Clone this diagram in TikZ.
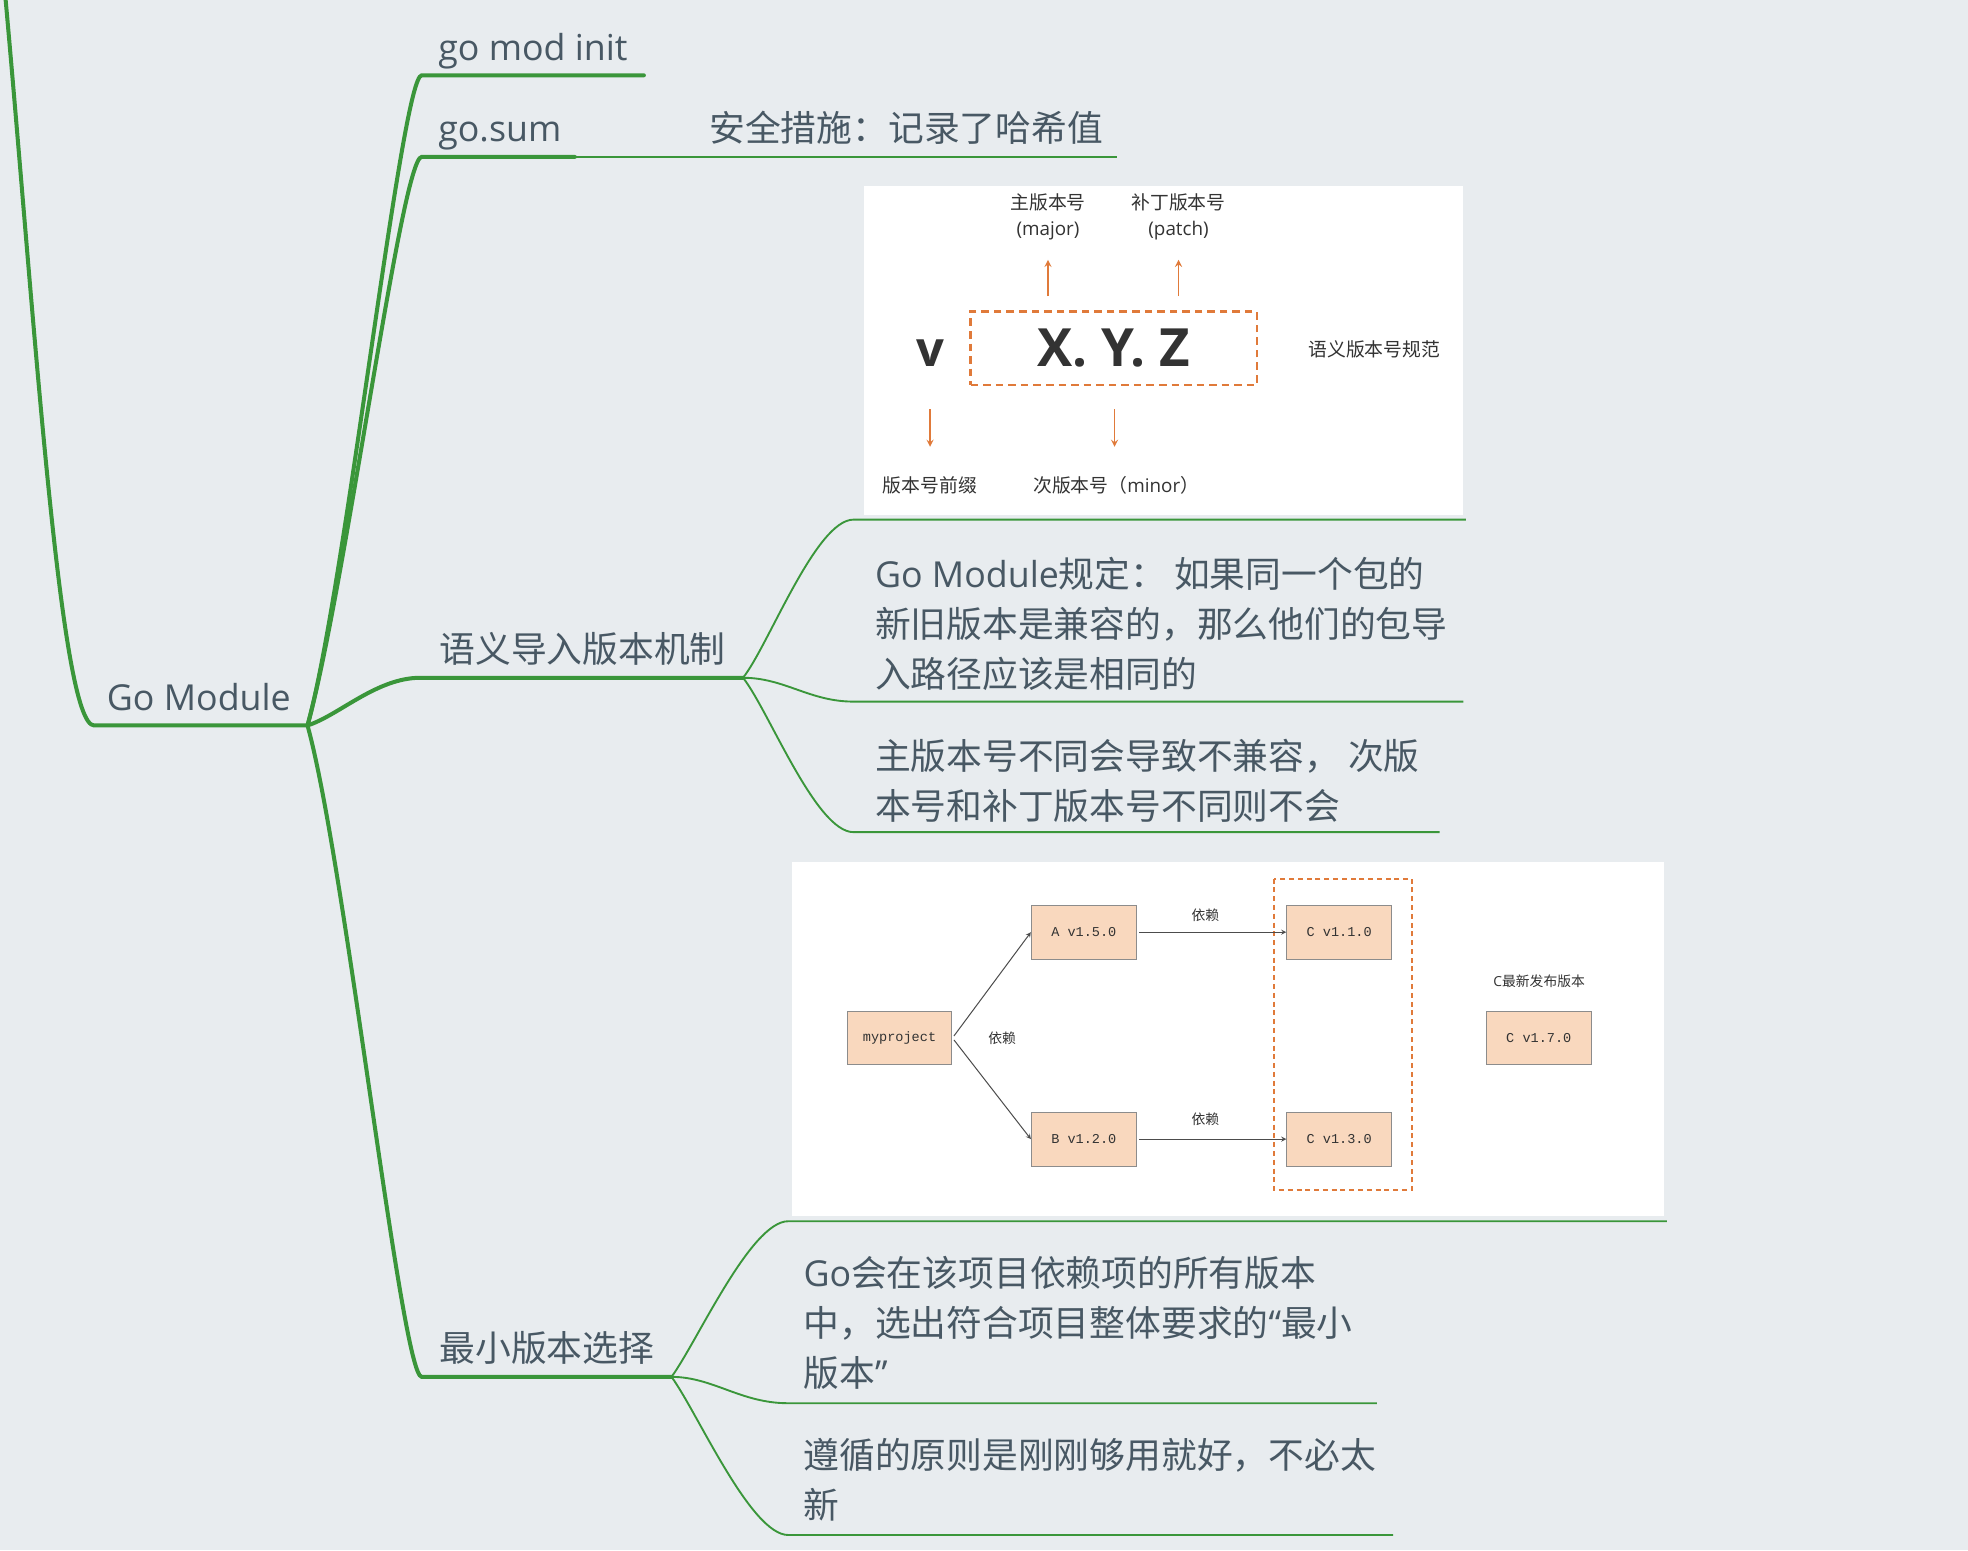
\documentclass[tikz,border=0pt]{standalone}
\usepackage{fontspec}
\setmainfont{Open Sans}
\newfontfamily\cjk{Noto Sans CJK SC}
\newfontfamily\mono{Liberation Mono}
\newcommand\zh[1]{{\cjk #1}}

\definecolor{mmbg}{RGB}{232,236,239}
\definecolor{mmgreen}{RGB}{58,150,58}
\definecolor{mmtext}{RGB}{72,88,100}
\definecolor{verorange}{RGB}{224,122,58}
\definecolor{peach}{RGB}{249,216,190}
\definecolor{ink}{RGB}{51,51,51}

\begin{document}
\begin{tikzpicture}[x=1pt, y=-1pt,
	trunk/.style={draw=mmgreen, line width=3.2pt, line cap=round},
	twig/.style={draw=mmgreen, line width=1.5pt},
	topic/.style={anchor=base west, inner sep=0pt, text=mmtext, align=left,
		font=\fontsize{28.5}{40}\selectfont},
	piclabel/.style={inner sep=0pt, text=ink, align=center, font=\fontsize{15}{21}\selectfont},
	pkg/.style={draw=black!45, fill=peach, line width=0.8pt, minimum width=83.5pt,
		minimum height=43pt, inner sep=0pt, text=ink, font=\mono\fontsize{10.8}{12}\selectfont},
	deplabel/.style={inner sep=0pt, text=ink, font=\fontsize{11}{13}\selectfont},
	tipup/.style={draw=verorange, line width=1.5pt, -stealth},
	deparrow/.style={draw=black!70, line width=0.8pt, -stealth, shorten <=2pt}]

	% 背景
	\fill[mmbg] (0, 0) rectangle (1568, 1235);
	\useasboundingbox (0, 0) rectangle (1568, 1235);

	% 分支的起点
	\coordinate (J) at (245, 578);
	\coordinate (S) at (592, 540);
	\coordinate (M) at (535, 1097);

	% 主干与一级分支
	\draw[trunk] (4.5, 0) .. controls (28, 260) and (48, 578) .. (75, 578) -- (J);
	\draw[trunk] (J) .. controls (275, 470) and (320, 60) .. (336, 60) -- (513, 60);
	\draw[trunk] (J) .. controls (275, 470) and (320, 125) .. (336, 125) -- (458, 125);
	\draw[trunk] (J) .. controls (270, 570) and (300, 540) .. (335, 540) -- (S);
	\draw[trunk] (J) .. controls (275, 686) and (320, 1097) .. (336, 1097) -- (M);

	% 二级分支
	\draw[twig] (458, 125) -- (890, 125);
	\draw[twig] (S) .. controls (612, 515) and (650, 414) .. (680, 414) -- (1168, 414);
	\draw[twig] (S) .. controls (625, 540) and (645, 559) .. (680, 559) -- (1166, 559);
	\draw[twig] (S) .. controls (612, 565) and (650, 663) .. (680, 663) -- (1147, 663);
	\draw[twig] (M) .. controls (555, 1070) and (598, 973) .. (628, 973) -- (1328, 973);
	\draw[twig] (M) .. controls (568, 1097) and (590, 1118) .. (628, 1118) -- (1097, 1118);
	\draw[twig] (M) .. controls (555, 1124) and (598, 1223) .. (628, 1223) -- (1110, 1223);

	% 主题文字 (多行时基线取最后一行)
	\node[topic] (gm) at (85, 566) {Go Module};
	\node[topic] (modinit) at (349, 48) {go mod init};
	\node[topic] (gosum) at (349, 113) {go.sum};
	\node[topic] (hash) at (565, 113) {\zh{安全措施：记录了哈希值}};
	\node[topic] (semver) at (350, 528) {\zh{语义导入版本机制}};
	\node[topic] (minver) at (350, 1085) {\zh{最小版本选择}};
	\node[topic] (rule) at (697, 548)
		{Go Module\zh{规定： 如果同一个包的}\\\zh{新旧版本是兼容的，那么他们的包导}\\\zh{入路径应该是相同的}};
	\node[topic] (major) at (697, 653)
		{\zh{主版本号不同会导致不兼容， 次版}\\\zh{本号和补丁版本号不同则不会}};
	\node[topic] (goal) at (640, 1105)
		{Go\zh{会在该项目依赖项的所有版本}\\\zh{中，选出符合项目整体要求的}“\zh{最小}\\\zh{版本}”};
	\node[topic] (principle) at (640, 1210)
		{\zh{遵循的原则是刚刚够用就好，不必太}\\\zh{新}};

	% 语义版本号的图
	\fill[white] (688, 148) rectangle (1166, 410);
	\node[draw=verorange, line width=2pt, dash pattern=on 6pt off 4pt,
		minimum width=228pt, minimum height=58.5pt, inner sep=0pt, text=ink,
		font=\bfseries\fontsize{42}{42}\selectfont] (xyz) at (887.4, 277.5) {X. Y. Z};
	\node[inner sep=0pt, text=ink, font=\bfseries\fontsize{39}{39}\selectfont] (vpre) at (741, 281) {v};
	\node[piclabel] (majorlbl) at (835, 173) {\zh{主版本号}\\(major)};
	\node[piclabel] (patchlbl) at (939, 173) {\zh{补丁版本号}\\(patch)};
	\node[piclabel] (prefixlbl) at (741, 387) {\zh{版本号前缀}};
	\node[piclabel, anchor=west] (minorlbl) at (823, 387) {\zh{次版本号（}minor\zh{）}};
	\node[piclabel] (speclbl) at (1095, 278) {\zh{语义版本号规范}};
	\draw[tipup] (835, 236) -- (835, 207);
	\draw[tipup] (939, 236) -- (939, 207);
	\draw[tipup] (741, 326) -- (741, 356);
	\draw[tipup] (888, 326) -- (888, 356);

	% 最小版本选择的图
	\fill[white] (631, 687) rectangle (1326, 969);
	\draw[verorange, line width=1.5pt, dash pattern=on 4pt off 3pt] (1015, 700) rectangle (1125, 948);
	\node[pkg] (myproject) at (716.7, 827) {myproject};
	\node[pkg] (Av) at (863.5, 742.7) {A v1.5.0};
	\node[pkg] (Bv) at (863.5, 907.6) {B v1.2.0};
	\node[pkg] (C1) at (1067, 742.7) {C v1.1.0};
	\node[pkg] (C3) at (1067, 907.6) {C v1.3.0};
	\node[pkg] (C7) at (1226, 827) {C v1.7.0};
	\draw[deparrow] (myproject.east) -- (Av.west);
	\draw[deparrow] (myproject.east) -- (Bv.west);
	\draw[deparrow] (Av) -- (C1);
	\draw[deparrow] (Bv) -- (C3);
	\node[deplabel] at (960.4, 729) {\zh{依赖}};
	\node[deplabel] at (960.4, 892) {\zh{依赖}};
	\node[deplabel] at (798.4, 827.4) {\zh{依赖}};
	\node[deplabel] at (1226.3, 782) {C\zh{最新发布版本}};
\end{tikzpicture}
\end{document}
